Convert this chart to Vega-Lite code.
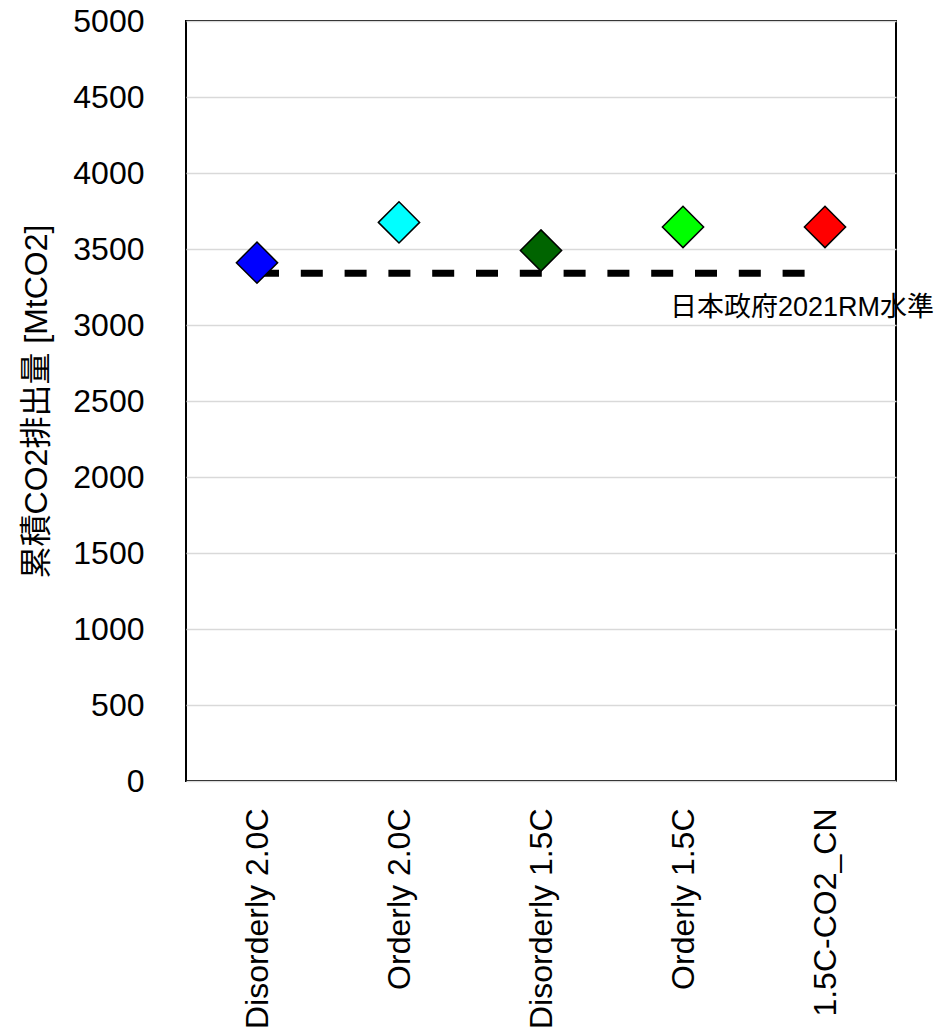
{
  "$schema": "https://vega.github.io/schema/vega-lite/v6.json",
  "width": 710,
  "height": 760,
  "autosize": "none",
  "padding": {"left": 186, "top": 21, "right": 43, "bottom": 254},
  "background": "white",
  "config": {
    "font": "Liberation Sans, Arial, Noto Sans CJK JP",
    "view": {"stroke": "black", "strokeWidth": 2},
    "axis": {"domain": false, "ticks": false, "labelColor": "black", "titleColor": "black", "labelFont": "Liberation Sans, Noto Sans CJK JP", "titleFont": "Liberation Sans, Noto Sans CJK JP"}
  },
  "datasets": {
    "pts": [
      {"scenario": "Disorderly 2.0C", "value": 3410, "color": "#0000FF"},
      {"scenario": "Orderly 2.0C", "value": 3675, "color": "#00FFFF"},
      {"scenario": "Disorderly 1.5C", "value": 3490, "color": "#006400"},
      {"scenario": "Orderly 1.5C", "value": 3645, "color": "#00FF00"},
      {"scenario": "1.5C-CO2_CN", "value": 3645, "color": "#FF0000"}
    ],
    "ref": [
      {"scenario": "Disorderly 2.0C", "value": 3340},
      {"scenario": "Orderly 2.0C", "value": 3340},
      {"scenario": "Disorderly 1.5C", "value": 3340},
      {"scenario": "Orderly 1.5C", "value": 3340},
      {"scenario": "1.5C-CO2_CN", "value": 3340}
    ],
    "lbl": [
      {"scenario": "1.5C-CO2_CN", "value": 3112, "text": "日本政府2021RM水準"}
    ]
  },
  "encoding": {
    "x": {
      "field": "scenario", "type": "nominal",
      "sort": ["Disorderly 2.0C", "Orderly 2.0C", "Disorderly 1.5C", "Orderly 1.5C", "1.5C-CO2_CN"],
      "scale": {"type": "point", "padding": 0.5},
      "axis": {"title": null, "labelAngle": -90, "labelAlign": "right", "labelBaseline": "middle", "labelPadding": 27, "labelFontSize": 32, "labelLimit": 0, "grid": false}
    },
    "y": {
      "field": "value", "type": "quantitative",
      "scale": {"domain": [0, 5000], "nice": false},
      "axis": {"title": "累積CO2排出量 [MtCO2]", "titleFontSize": 32, "titleFontWeight": "normal", "titleX": -150, "titleBaseline": "middle", "format": "d", "values": [0, 500, 1000, 1500, 2000, 2500, 3000, 3500, 4000, 4500, 5000], "labelFontSize": 32, "labelPadding": 42, "grid": true, "gridColor": "#d9d9d9", "gridWidth": 1.5}
    }
  },
  "layer": [
    {
      "data": {"name": "ref"},
      "mark": {"type": "line", "color": "black", "strokeWidth": 7, "strokeDash": [22, 21.8], "strokeCap": "butt"}
    },
    {
      "data": {"name": "pts"},
      "mark": {"type": "point", "shape": "diamond", "filled": true, "size": 1700, "stroke": "black", "strokeWidth": 1.5, "opacity": 1},
      "encoding": {
        "fill": {"field": "color", "type": "nominal", "scale": null}
      }
    },
    {
      "data": {"name": "lbl"},
      "mark": {"type": "text", "fontSize": 27, "align": "center", "baseline": "middle", "dx": -23, "color": "black", "font": "Liberation Sans, Noto Sans CJK JP"},
      "encoding": {"text": {"field": "text"}}
    }
  ]
}
